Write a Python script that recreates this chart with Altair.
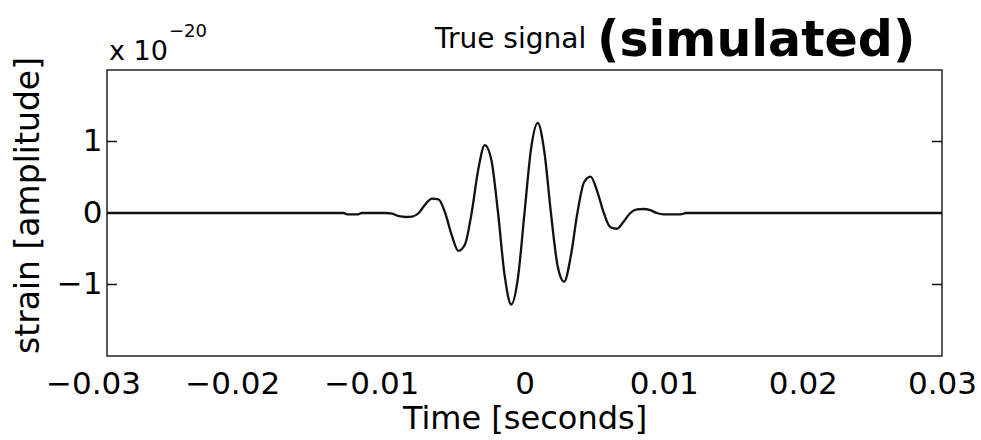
import altair as alt
import pandas as pd

# Sine-Gaussian burst: time in seconds, strain in units of 1e-20
time_s = [
    -0.0300, -0.0130, -0.0127, -0.0120, -0.0117, -0.0100, -0.0095, -0.00903,
    -0.00855, -0.00808, -0.0076, -0.00713, -0.00665, -0.00618, -0.0057,
    -0.00523, -0.00475, -0.00428, -0.0038, -0.00333, -0.00285, -0.00238,
    -0.0019, -0.00143, -0.00095, -0.00048, 0.0,
    0.00048, 0.00095, 0.00143, 0.0019, 0.00238, 0.00285, 0.00333, 0.0038,
    0.00428, 0.00475, 0.00523, 0.0057, 0.00618, 0.00665, 0.00713, 0.0076,
    0.00808, 0.00855, 0.00903, 0.0095, 0.00998, 0.01045, 0.0112, 0.0116,
    0.0300,
]
strain = [
    0.0, 0.0, -0.02, -0.02, 0.0, 0.0, -0.01, -0.045,
    -0.056, -0.05, 0.0, 0.12, 0.20, 0.19, 0.0,
    -0.31, -0.53, -0.44, 0.0, 0.60, 0.95, 0.74,
    0.0, -0.87, -1.28, -0.92, 0.0,
    0.91, 1.26, 0.85, 0.0, -0.74, -0.96, -0.60, 0.0,
    0.43, 0.51, 0.30, 0.0, -0.20, -0.22, -0.12, 0.0,
    0.05, 0.056, 0.04, 0.0, -0.02, -0.02, -0.02, 0.0,
    0.0,
]

x_tick_values = [-0.03, -0.02, -0.01, 0, 0.01, 0.02, 0.03]
y_tick_values = [-1, 0, 1]
x_domain = [-0.03, 0.03]
y_domain = [-2, 2]

x_title = "Time [seconds]"
y_title = "strain [amplitude]"
exponent_base = ["x 10"]
exponent_power = ["\u221220"]
title_plain = ["True signal"]
title_bold = ["(simulated)"]

W, H = 835, 286
FONT = "DejaVu Sans"
INK = "#111111"

wave = pd.DataFrame({"time": time_s, "strain": strain})
tick_df = pd.DataFrame({"strain": y_tick_values})

x_scale = alt.Scale(domain=x_domain, nice=False, zero=False)
y_scale = alt.Scale(domain=y_domain, nice=False, zero=False)

x_axis = alt.Axis(
    values=x_tick_values, format="~g", ticks=False, domain=False,
    grid=False, labelPadding=13, labelFontSize=31, labelFont=FONT,
    labelColor="black", labelFlush=False, labelOverlap=False,
    # digits stay centred on the tick, the minus sign hangs to the left
    labelOffset={"condition": {"test": "datum.value < 0", "value": -14},
                 "value": 0},
    title=x_title, titleFont=FONT, titleFontSize=32,
    titleFontWeight="normal", titleColor="black",
    titleX=W / 2, titleY=72, titleBaseline="alphabetic",
    titleAlign="center",
)
y_axis = alt.Axis(
    values=y_tick_values, format="~g", ticks=False, domain=False,
    grid=False, labelPadding=5, labelFontSize=31, labelFont=FONT,
    labelColor="black", labelOverlap=False, labelFlush=False,
    title=y_title, titleFont=FONT, titleFontSize=33,
    titleFontWeight="normal", titleColor="black", titleAngle=-90,
    titleX=-79, titleY=H / 2 - 8, titleBaseline="middle",
    titleAlign="center",
)

line = alt.Chart(wave).mark_line(
    color=INK, strokeWidth=2.3, interpolate="monotone"
).encode(
    x=alt.X("time:Q", scale=x_scale, axis=x_axis),
    y=alt.Y("strain:Q", scale=y_scale, axis=y_axis),
)

# Inward-pointing ticks on the left and right edges of the box
left_ticks = alt.Chart(tick_df).mark_rule(color=INK, strokeWidth=1.5).encode(
    y=alt.Y("strain:Q", scale=y_scale, axis=y_axis),
    x=alt.value(0), x2=alt.value(10),
)
right_ticks = alt.Chart(tick_df).mark_rule(color=INK, strokeWidth=1.5).encode(
    y=alt.Y("strain:Q", scale=y_scale, axis=y_axis),
    x=alt.value(W - 10), x2=alt.value(W),
)


def text_layer(values, x, y, size, weight="normal"):
    return alt.Chart(pd.DataFrame({"txt": values})).mark_text(
        font=FONT, fontSize=size, fontWeight=weight, align="left",
        baseline="alphabetic", color="black",
    ).encode(x=alt.value(x), y=alt.value(y), text="txt:N")


base_txt = text_layer(exponent_base, 2, -10, 27)
power_txt = text_layer(exponent_power, 62, -33, 18)
plain_txt = text_layer(title_plain, 328, -22, 28)
bold_txt = text_layer(title_bold, 490, -14, 49, "bold")

chart = alt.layer(
    line, left_ticks, right_ticks, base_txt, power_txt, plain_txt, bold_txt
).properties(
    width=W, height=H,
    autosize=alt.AutoSizeParams(type="none"),
    padding={"left": 107, "top": 70, "right": 39, "bottom": 84},
    background="white",
).configure_view(stroke="#222222", strokeWidth=1.5)

chart.save("out.html", embed_options={"renderer": "svg", "actions": False})
